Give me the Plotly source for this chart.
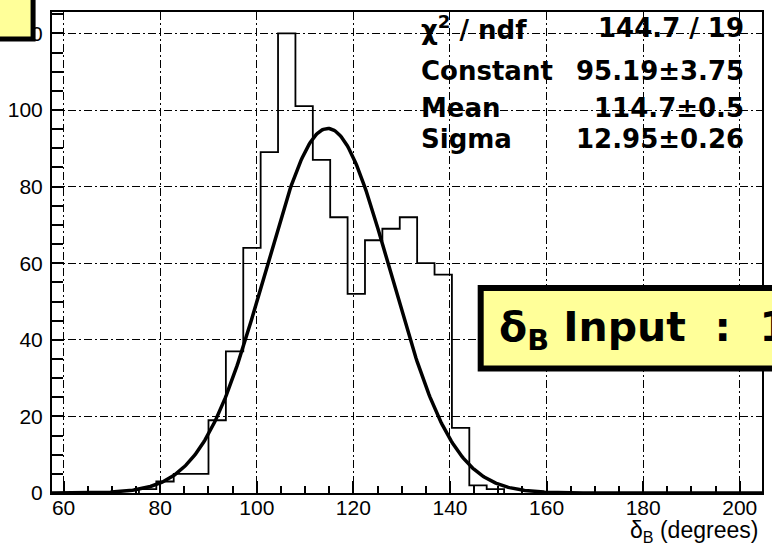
import numpy as np
import plotly.graph_objects as go

# ---------------- data ----------------
bin_width = 3.6
first_edge = 75.6
counts = [1, 3, 5, 5, 19, 37, 64, 89, 120, 101, 87, 72, 52, 66, 69, 72, 60, 57, 17, 2, 1]

fit_constant = 95.19
fit_mean = 114.7
fit_sigma = 12.95

stat_labels = ["χ<sup>2</sup> / ndf", "Constant", "Mean", "Sigma"]
stat_values = ["144.7 / 19", "95.19±3.75", "114.7±0.5", "12.95±0.26"]

x_range = [57.6, 204.6]
y_range = [0, 125.6]
x_ticks = [60, 80, 100, 120, 140, 160, 180, 200]
y_ticks = [0, 20, 40, 60, 80, 100, 120]

# ---------------- figure geometry ----------------
W, H = 772, 547
ML, MR, MT, MB = 51, 8, 12, 54
PW, PH = W - ML - MR, H - MT - MB


def px2x(px):
    return (px - ML) / PW


def py2y(py):
    return (H - MB - py) / PH


# histogram outline
edges = [round(first_edge + bin_width * i, 2) for i in range(len(counts) + 1)]
hx = [edges[0]] + edges
hy = [0] + counts + [0]

# fitted gaussian
gx = np.linspace(x_range[0], x_range[1], 600)
gy = fit_constant * np.exp(-0.5 * ((gx - fit_mean) / fit_sigma) ** 2)

fig = go.Figure()
fig.add_trace(go.Scatter(x=hx, y=hy, mode="lines", line=dict(color="black", width=1.8, shape="hv"),
                         hoverinfo="skip", showlegend=False))
fig.add_trace(go.Scatter(x=gx, y=gy, mode="lines", line=dict(color="black", width=3.5),
                         hoverinfo="skip", showlegend=False))

grid_dash = "8px,3px,2px,3px"
tick_font = dict(family="Liberation Sans, Arial, sans-serif", size=21, color="black")

fig.update_xaxes(range=x_range, tickmode="array", tickvals=x_ticks, ticktext=[str(v) for v in x_ticks],
                 showgrid=True, gridcolor="black", gridwidth=1, griddash=grid_dash,
                 showline=True, linecolor="black", linewidth=2, mirror=True,
                 ticks="inside", ticklen=12, tickwidth=1.5, tickcolor="black", ticklabelstandoff=-5,
                 minor=dict(dtick=5, tick0=60, ticks="inside", ticklen=7, tickwidth=1.5, tickcolor="black", showgrid=False),
                 tickfont=tick_font, zeroline=False, fixedrange=True)
fig.update_yaxes(range=y_range, tickmode="array", tickvals=y_ticks, ticktext=[str(v) for v in y_ticks],
                 showgrid=True, gridcolor="black", gridwidth=1, griddash=grid_dash,
                 showline=True, linecolor="black", linewidth=2, mirror=True,
                 ticks="inside", ticklen=12, tickwidth=1.5, tickcolor="black", ticklabelstandoff=3,
                 minor=dict(dtick=5, tick0=0, ticks="inside", ticklen=11, tickwidth=1.5, tickcolor="black", showgrid=False),
                 tickfont=tick_font, zeroline=False, fixedrange=True)

# stats box text
stat_font = dict(family="DejaVu Sans, sans-serif", size=26, color="black")
row_y = [28, 71, 107.5, 139]
annotations = []
for lab, val, ry in zip(stat_labels, stat_values, row_y):
    annotations.append(dict(x=px2x(421), y=py2y(ry), xref="paper", yref="paper", text="<b>%s</b>" % lab,
                            xanchor="left", yanchor="middle", showarrow=False, font=stat_font, borderpad=0))
    annotations.append(dict(x=px2x(747), y=py2y(ry), xref="paper", yref="paper", text="<b>%s</b>" % val,
                            xanchor="right", yanchor="middle", showarrow=False, font=stat_font, borderpad=0))

# axis title
annotations.append(dict(x=px2x(761), y=py2y(531), xref="paper", yref="paper",
                        text="δ<sub>B</sub> (degrees)", xanchor="right", yanchor="middle", showarrow=False,
                        font=dict(family="Liberation Sans, Arial, sans-serif", size=23, color="black"), borderpad=0))

# yellow label box text
annotations.append(dict(x=px2x(499), y=py2y(330), xref="paper", yref="paper",
                        text="<b>δ<sub>B</sub> Input\u00a0\u00a0:\u00a0\u00a01</b>", xanchor="left", yanchor="middle",
                        showarrow=False, font=dict(family="DejaVu Sans, sans-serif", size=41, color="black"),
                        borderpad=0))

shapes = [
    dict(type="rect", xref="paper", yref="paper", x0=px2x(-10), x1=px2x(32), y0=py2y(-10), y1=py2y(39),
         fillcolor="#ffff99", line=dict(color="black", width=5), layer="above"),
    dict(type="rect", xref="paper", yref="paper", x0=px2x(481.5), x1=px2x(800), y0=py2y(288), y1=py2y(368.5),
         fillcolor="#ffff99", line=dict(color="black", width=6), layer="above"),
]

fig.update_layout(width=W, height=H, margin=dict(l=ML, r=MR, t=MT, b=MB, pad=0),
                  paper_bgcolor="white", plot_bgcolor="white",
                  annotations=annotations, shapes=shapes, showlegend=False)

fig.write_html("out.html", config={"displayModeBar": False},
               post_script="document.body.style.margin='0px'; document.body.style.overflow='hidden';")
